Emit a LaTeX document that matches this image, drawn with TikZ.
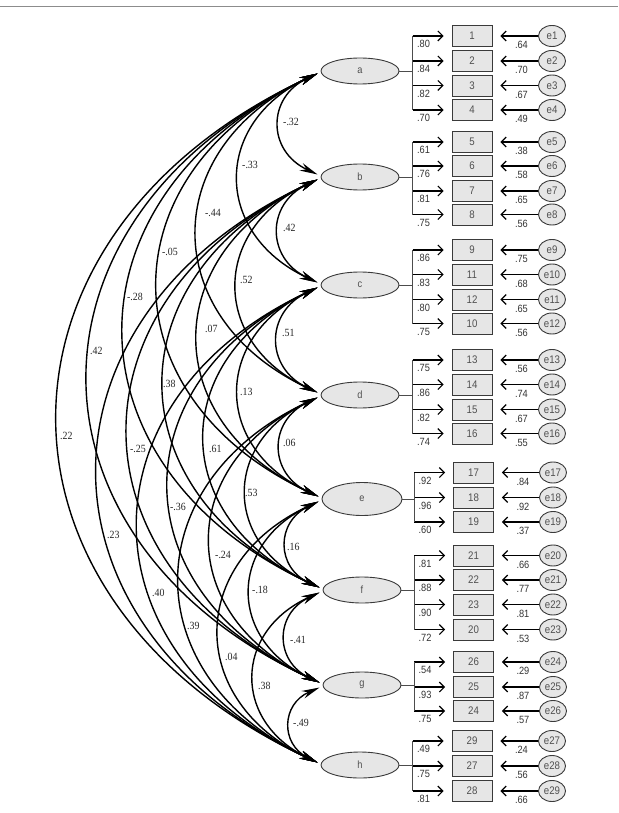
\documentclass[tikz,border=0pt]{standalone}
\usepackage{fontspec}
\setmainfont{Liberation Sans}
\newfontfamily\sansf[FakeStretch=0.88]{Liberation Sans}
\newfontfamily\seriff[FakeStretch=0.9]{Liberation Serif}
\usetikzlibrary{arrows.meta,shapes.geometric,calc}
\definecolor{boxfill}{HTML}{E6E6E6}
\definecolor{txtgray}{HTML}{505050}
\definecolor{edgegray}{HTML}{3A3A3A}
\begin{document}
\begin{tikzpicture}[x=1pt,y=1pt,
 lat/.style={ellipse, draw=edgegray, line width=0.9pt, fill=boxfill, minimum width=78pt, minimum height=26pt, inner sep=0pt, font=\sansf\fontsize{10.5}{10.5}\selectfont, text=txtgray},
 ind/.style={rectangle, draw=edgegray, line width=0.9pt, fill=boxfill, minimum width=40pt, minimum height=21pt, inner sep=0pt, font=\sansf\fontsize{11}{11}\selectfont, text=txtgray},
 errn/.style={ellipse, draw=edgegray, line width=0.9pt, fill=boxfill, minimum width=27pt, minimum height=21pt, inner sep=0pt, font=\sansf\fontsize{11}{11}\selectfont, text=txtgray},
 lab/.style={inner sep=0pt, font=\sansf\fontsize{10.5}{10.5}\selectfont, text=black!80},
 arclab/.style={inner sep=0pt, anchor=west, font=\seriff\fontsize{11}{11}\selectfont, text=black!85},
 cov/.style={line width=1.4pt, {Stealth[length=18pt,width=8pt]}-{Stealth[length=18pt,width=8pt]}},
 load/.style={line width=1.1pt, -{Straight Barb[length=5pt,width=10pt]}},
 bracket/.style={line width=0.9pt, draw=black!70},
]
\useasboundingbox (0,0) rectangle (618,-813);
\draw[line width=1.5pt, black!45] (0,-6.5) -- (618,-6.5);

% latent factors
\node[lat] (a) at (360,-71) {a};
\node[lat] (b) at (360,-177) {b};
\node[lat] (c) at (360,-285) {c};
\node[lat] (d) at (360,-395) {d};
\node[lat, minimum width=80pt, minimum height=33pt] (e) at (362,-499) {e};
\node[lat] (f) at (362,-590) {f};
\node[lat] (g) at (362,-685) {g};
\node[lat] (h) at (360,-765) {h};

% indicators and errors
\foreach \vn/\vy/\en/\ld/\ed/\bx/\ex in {
 1/36/1/.80/.64/472/552, 2/61/2/.84/.70/472/552, 3/85.5/3/.82/.67/472/552, 4/110/4/.70/.49/472/552,
 5/142/5/.61/.38/472/552, 6/166/6/.76/.58/472/552, 7/191/7/.81/.65/472/552, 8/214.5/8/.75/.56/472/552,
 9/250/9/.86/.75/472/552, 11/274.5/10/.83/.68/472/552, 12/299.5/11/.80/.65/472/552, 10/323.5/12/.75/.56/472/552,
 13/360/13/.75/.56/472/552, 14/384.5/14/.86/.74/472/552, 15/409.5/15/.82/.67/472/552, 16/433.5/16/.74/.55/472/552,
 17/472.5/17/.92/.84/473.5/553, 18/497.5/18/.96/.92/473.5/553, 19/522/19/.60/.37/473.5/553,
 21/555.5/20/.81/.66/473.5/553, 22/580/21/.88/.77/473.5/553, 23/604.5/22/.90/.81/473.5/553, 20/629.5/23/.72/.53/473.5/553,
 26/662/24/.54/.29/473.5/553, 25/687/25/.93/.87/473.5/553, 24/711/26/.75/.57/473.5/553,
 29/741/27/.49/.24/472/552, 27/766/28/.75/.56/472/552, 28/791/29/.81/.66/472/552}{
  \node[ind] (v\vn) at (\bx,-\vy) {\vn};
  \node[errn] (er\en) at (\ex,-\vy) {e\en};
  \draw[load] ([xshift=-39pt]v\vn.west) -- ([xshift=-8pt]v\vn.west);
  \draw[load] (er\en.west) -- ([xshift=8pt]v\vn.east);
  \node[lab] at ([shift={(-28pt,-8pt)}]v\vn.west) {\ld};
  \node[lab] at ([shift={(29pt,-9pt)}]v\vn.east) {\ed};
}

% brackets from factor to its loadings
\foreach \ga/\gb/\gc in {a/1/4, b/5/8, c/9/10, d/13/16, e/17/19, f/21/20, g/26/24, h/29/28}{
  \coordinate (k\ga) at ([xshift=-39pt]v\gb.west);
  \draw[bracket] (k\ga) -- ([xshift=-39pt]v\gc.west);
  \draw[bracket] (\ga.east) -- (\ga.east -| k\ga);
}

% arc end points
\foreach \ga in {a,b,c,d,e,f,g,h}{
  \coordinate (\ga U) at ([shift={(-3pt,2.5pt)}]\ga.west);
  \coordinate (\ga L) at ([shift={(-3pt,-2.5pt)}]\ga.west);
}

% covariances
\foreach \ga/\gb/\cv/\lx/\ly in {
 a/b/-.32/283/122, a/c/-.33/242/165, a/d/-.44/205/213, a/e/-.05/162/252, a/f/-.28/127/297, a/g/.42/90/351, a/h/.22/60/436,
 b/c/.42/283/228, b/d/.52/240/280, b/e/.07/205/329, b/f/.38/163/384, b/g/-.25/130/449, b/h/.23/107/535,
 c/d/.51/282/333, c/e/.13/240/392, c/f/.61/209/449, c/g/-.36/170/507, c/h/.40/152/593,
 d/e/.06/283/443, d/f/.53/245/493, d/g/-.24/215/555, d/h/.39/187/626,
 e/f/.16/287/547, e/g/-.18/252/590, e/h/.04/225/657,
 f/g/-.41/290/640, f/h/.38/258/686,
 g/h/-.49/293/723}{
  \draw[cov] (\ga L) to[bend right=65, looseness=1.42] (\gb U);
  \node[arclab] at (\lx,-\ly) {\cv};
}
\end{tikzpicture}
\end{document}
